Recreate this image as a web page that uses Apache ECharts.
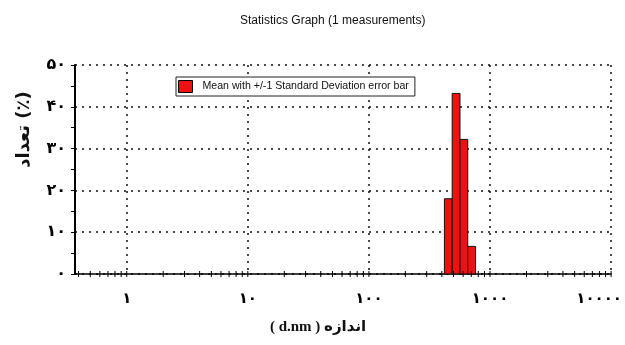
<!DOCTYPE html>
<html>
<head>
<meta charset="utf-8">
<script src="https://cdn.jsdelivr.net/npm/echarts@6/dist/echarts.min.js"></script>
<style>
  html, body { margin: 0; padding: 0; background: #fff; }
  #chart { width: 625px; height: 345px; }
</style>
</head>
<body>
<div id="chart"></div>
<script>
// size bins (d.nm), lower / upper edge of each bar
var binLow = [420, 487, 565, 655]
var binHigh = [487, 565, 655, 760]
// intensity (%) per bin
var percent = [18.0, 43.2, 32.2, 6.6]
var seriesName = 'Mean with +/-1 Standard Deviation error bar'
var decades = [1, 10, 100, 1000, 10000]
var minorTicks = [0.4, 0.5, 0.6, 0.7, 0.8, 0.9,
  2, 3, 4, 5, 6, 7, 8, 9,
  20, 30, 40, 50, 60, 70, 80, 90,
  200, 300, 400, 500, 600, 700, 800, 900,
  2000, 3000, 4000, 5000, 6000, 7000, 8000, 9000]

var faDigits = '۰۱۲۳۴۵۶۷۸۹'
function toFa(n) {
  return String(n).replace(/\d/g, function (d) { return faDigits[d] })
}

var faFont = '"DejaVu Sans", "Noto Sans", sans-serif'
var dotted = { color: '#111', width: 1.5, type: [2, 5] }

var chart = echarts.init(document.getElementById('chart'))
chart.setOption({
  animation: false,
  backgroundColor: '#fff',
  title: {
    text: 'Statistics Graph (1 measurements)',
    left: 235,
    top: 10,
    textStyle: {
      fontFamily: '"Liberation Sans", Arial, sans-serif',
      fontWeight: 'normal',
      fontSize: 12,
      color: '#111'
    }
  },
  legend: {
    data: [seriesName],
    left: 176,
    top: 77,
    orient: 'horizontal',
    icon: 'rect',
    itemWidth: 14,
    itemHeight: 12,
    padding: [3, 6, 3, 2],
    borderColor: '#222',
    borderWidth: 1,
    backgroundColor: '#fff',
    itemStyle: { borderColor: '#000', borderWidth: 1 },
    textStyle: {
      fontFamily: '"Liberation Sans", Arial, sans-serif',
      fontSize: 10.6,
      color: '#111',
      padding: [0, 0, 0, 5]
    }
  },
  grid: {
    left: 75,
    right: 13,
    top: 65,
    bottom: 71
  },
  xAxis: {
    type: 'log',
    logBase: 10,
    min: 0.374,
    max: 10000,
    name: '( d.nm ) اندازه',
    nameLocation: 'middle',
    nameGap: 46,
    nameTextStyle: {
      fontFamily: '"Liberation Serif", ' + faFont,
      fontWeight: 'bold',
      fontSize: 15,
      color: '#111',
      padding: [0, 50, 0, 0]
    },
    axisLine: { lineStyle: { color: '#000', width: 1.5 } },
    axisTick: { show: false },
    axisLabel: {
      margin: 18,
      showMinLabel: false,
      fontFamily: faFont,
      fontWeight: 'bold',
      fontSize: 15,
      color: '#000',
      formatter: function (v) {
        var r = Math.round(v)
        if (decades.indexOf(r) < 0) return ''
        if (r === 10000) return '{last|' + toFa(r) + '}'
        return toFa(r)
      },
      rich: {
        last: {
          fontFamily: faFont,
          fontWeight: 'bold',
          fontSize: 15,
          color: '#000',
          padding: [0, 24, 0, 0]
        }
      }
    },
    splitLine: { show: true, lineStyle: dotted }
  },
  yAxis: {
    type: 'value',
    min: 0,
    max: 50,
    interval: 10,
    name: 'تعداد (٪)',
    nameLocation: 'middle',
    nameGap: 42,
    nameRotate: 90,
    nameTextStyle: {
      fontFamily: faFont,
      fontWeight: 'bold',
      fontSize: 18,
      color: '#111',
      padding: [0, 0, 0, 80]
    },
    axisLine: { show: true, lineStyle: { color: '#000', width: 2 } },
    axisTick: { show: true, length: 4, lineStyle: { color: '#000' } },
    minorTick: { show: true, splitNumber: 2, length: 4, lineStyle: { color: '#000' } },
    axisLabel: {
      margin: 9,
      fontFamily: faFont,
      fontWeight: 'bold',
      fontSize: 16,
      color: '#000',
      formatter: function (v) { return toFa(v) }
    },
    splitLine: { show: true, lineStyle: dotted }
  },
  series: [{
    name: seriesName,
    type: 'custom',
    itemStyle: { color: '#ee1111' },
    encode: { x: [0, 1], y: 2 },
    data: binLow.map(function (lo, i) { return [lo, binHigh[i], percent[i]] }),
    renderItem: function (params, api) {
      var p0 = api.coord([api.value(0), api.value(2)])
      var p1 = api.coord([api.value(1), 0])
      return {
        type: 'rect',
        shape: { x: p0[0], y: p0[1], width: p1[0] - p0[0], height: p1[1] - p0[1] },
        style: { fill: '#ee1111', stroke: '#111', lineWidth: 1 }
      }
    }
  }, {
    // ticks of the log axis (decades and 2..9), crossing the axis line
    type: 'custom',
    silent: true,
    legendHoverLink: false,
    data: minorTicks.concat(decades).map(function (v) { return [v, 0] }),
    encode: { x: 0, y: 1 },
    clip: false,
    renderItem: function (params, api) {
      var p = api.coord([api.value(0), 0])
      return {
        type: 'line',
        shape: { x1: p[0], y1: p[1] - 3, x2: p[0], y2: p[1] + 3 },
        style: { stroke: '#000', lineWidth: 1 }
      }
    }
  }]
})
</script>
</body>
</html>
